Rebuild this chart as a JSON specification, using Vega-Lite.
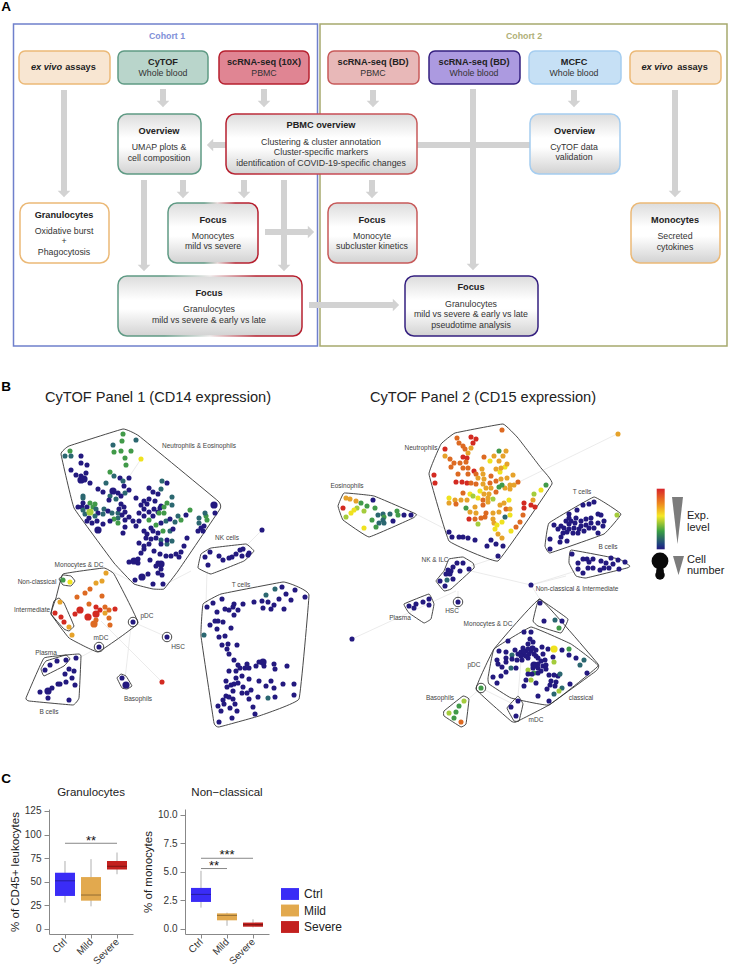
{"$schema":"https://vega.github.io/schema/vega-lite/v6.json","padding":{"left":1,"top":0,"right":0,"bottom":0},"background":"white","spacing":0,"config":{"font":"Liberation Sans","view":{"stroke":null},"concat":{"spacing":0}},
"resolve":{"scale":{"color":"independent","stroke":"independent","fill":"independent","shape":"independent","size":"independent"}},
"datasets":{
"frames":[{"k":"c1","x":12.5,"x2":316.5,"y":23,"y2":345},{"k":"c2","x":319,"x2":726,"y":23,"y2":345}],
"top":[{"k":"tan","x":18,"x2":109,"y":50,"y2":83},{"k":"teal","x":117,"x2":207,"y":50,"y2":83},{"k":"red","x":218,"x2":308,"y":50,"y2":83},{"k":"rose","x":327,"x2":418,"y":50,"y2":83},{"k":"purple","x":428,"x2":519,"y":50,"y2":83},{"k":"sky","x":528,"x2":620,"y":50,"y2":83},{"k":"tan","x":629,"x2":720,"y":50,"y2":83}],
"gbox":[{"k":"teal","x":117,"x2":200,"y":113,"y2":173},{"k":"sky","x":529,"x2":619,"y":113,"y2":173},{"k":"rose","x":327,"x2":416,"y":202,"y2":262},{"k":"tan","x":630,"x2":719,"y":202,"y2":262},{"k":"purple","x":404,"x2":537,"y":275,"y2":335}],
"wbox":[{"k":"tan","x":19,"x2":108,"y":202,"y2":262}],
"arrows":[{"x":63,"y":89,"x2":63,"y2":192},{"x":162,"y":88,"x2":162,"y2":102},{"x":263,"y":88,"x2":263,"y2":102},{"x":372,"y":89,"x2":372,"y2":102},{"x":472,"y":88,"x2":472,"y2":265},{"x":573,"y":89,"x2":573,"y2":102},{"x":674,"y":89,"x2":674,"y2":192},{"x":225,"y":144,"x2":211,"y2":144},{"x":416,"y":144,"x2":529,"y2":144},{"x":143,"y":179,"x2":143,"y2":266},{"x":182,"y":179,"x2":182,"y2":193},{"x":243,"y":179,"x2":243,"y2":193},{"x":283,"y":179,"x2":283,"y2":266},{"x":264,"y":231,"x2":309,"y2":231},{"x":371,"y":179,"x2":371,"y2":193},{"x":308,"y":304,"x2":394,"y2":304}],
"heads":[{"x":63,"y":193,"d":"down"},{"x":162,"y":103,"d":"down"},{"x":263,"y":103,"d":"down"},{"x":372,"y":103,"d":"down"},{"x":472,"y":266,"d":"down"},{"x":573,"y":103,"d":"down"},{"x":674,"y":193,"d":"down"},{"x":209,"y":144,"d":"left"},{"x":143,"y":267,"d":"down"},{"x":182,"y":194,"d":"down"},{"x":243,"y":194,"d":"down"},{"x":283,"y":267,"d":"down"},{"x":310,"y":231,"d":"right"},{"x":371,"y":194,"d":"down"},{"x":395,"y":304,"d":"right"}],
"bold":[{"x":162,"y":60.5,"t":"CyTOF"},{"x":263,"y":60.5,"t":"scRNA-seq (10X)"},{"x":372,"y":60.5,"t":"scRNA-seq (BD)"},{"x":473,"y":60.5,"t":"scRNA-seq (BD)"},{"x":573,"y":60.5,"t":"MCFC"},{"x":79.5,"y":66,"t":"assays"},{"x":691.5,"y":66,"t":"assays"},{"x":158,"y":130,"t":"Overview"},{"x":320,"y":124,"t":"PBMC overview"},{"x":573.5,"y":130,"t":"Overview"},{"x":63,"y":214,"t":"Granulocytes"},{"x":212,"y":219,"t":"Focus"},{"x":371,"y":219,"t":"Focus"},{"x":674,"y":219,"t":"Monocytes"},{"x":208,"y":292,"t":"Focus"},{"x":470,"y":286,"t":"Focus"}],
"ital":[{"x":45.5,"y":66,"t":"ex vivo"},{"x":656,"y":66,"t":"ex vivo"}],
"reg":[{"x":162,"y":72,"t":"Whole blood"},{"x":263,"y":72,"t":"PBMC"},{"x":372,"y":72,"t":"PBMC"},{"x":473,"y":72,"t":"Whole blood"},{"x":573,"y":72,"t":"Whole blood"},{"x":158,"y":146,"t":"UMAP plots &"},{"x":158,"y":157,"t":"cell composition"},{"x":320,"y":141,"t":"Clustering & cluster annotation"},{"x":320,"y":151,"t":"Cluster-specific markers"},{"x":320,"y":162,"t":"identification of COVID-19-specific changes"},{"x":573,"y":146,"t":"CyTOF data"},{"x":573,"y":156,"t":"validation"},{"x":63,"y":230,"t":"Oxidative burst"},{"x":63,"y":240,"t":"+"},{"x":63,"y":251,"t":"Phagocytosis"},{"x":212,"y":235,"t":"Monocytes"},{"x":212,"y":245,"t":"mild vs severe"},{"x":371,"y":235,"t":"Monocyte"},{"x":371,"y":245,"t":"subcluster kinetics"},{"x":674,"y":235,"t":"Secreted"},{"x":674,"y":246,"t":"cytokines"},{"x":208,"y":308,"t":"Granulocytes"},{"x":208,"y":319,"t":"mild vs severe & early vs late"},{"x":470,"y":303,"t":"Granulocytes"},{"x":470,"y":313,"t":"mild vs severe & early vs late"},{"x":470,"y":324,"t":"pseudotime analysis"}],
"cohort":[{"x":166,"y":35,"t":"Cohort 1"},{"x":523,"y":35,"t":"Cohort 2"}],
"letters":[{"x":5,"y":6,"t":"A"},{"x":5,"y":386,"t":"B"},{"x":5,"y":778,"t":"C"}],
"titles":[{"x":157,"y":397,"t":"CyTOF Panel 1 (CD14 expression)"},{"x":482,"y":397,"t":"CyTOF Panel 2 (CD15 expression)"}],
"labels":[{"x":198,"y":445,"t":"Neutrophils & Eosinophils"},{"x":226,"y":537,"t":"NK cells"},{"x":78,"y":564,"t":"Monocytes & DC"},{"x":36,"y":581,"t":"Non-classical"},{"x":31,"y":609,"t":"Intermediate"},{"x":146,"y":615,"t":"pDC"},{"x":100,"y":637,"t":"mDC"},{"x":177,"y":646,"t":"HSC"},{"x":240,"y":584,"t":"T cells"},{"x":45,"y":652,"t":"Plasma"},{"x":137,"y":698,"t":"Basophils"},{"x":48,"y":711,"t":"B cells"},{"x":420,"y":447,"t":"Neutrophils"},{"x":346,"y":485,"t":"Eosinophils"},{"x":581,"y":491,"t":"T cells"},{"x":607,"y":546,"t":"B cells"},{"x":434,"y":559,"t":"NK & ILC"},{"x":576,"y":588,"t":"Non-classical & Intermediate"},{"x":451,"y":610,"t":"HSC"},{"x":399,"y":617,"t":"Plasma"},{"x":487,"y":623,"t":"Monocytes & DC"},{"x":473,"y":664,"t":"pDC"},{"x":439,"y":697,"t":"Basophils"},{"x":580,"y":697,"t":"classical"},{"x":535,"y":719,"t":"mDC"}],
"legtext":[{"x":686,"y":515,"t":"Exp."},{"x":686,"y":527,"t":"level"},{"x":686,"y":559,"t":"Cell"},{"x":686,"y":570,"t":"number"}],
"edges":[{"x":140,"y":458,"x2":124,"y2":482},{"x":261,"y":529,"x2":244,"y2":546},{"x":206,"y":570,"x2":205,"y2":604},{"x":132,"y":621,"x2":166,"y2":636},{"x":130,"y":625,"x2":124,"y2":678},{"x":161,"y":681,"x2":100,"y2":620},{"x":98,"y":646,"x2":78,"y2":657},{"x":190,"y":570,"x2":165,"y2":583},{"x":110,"y":570,"x2":130,"y2":580},{"x":616,"y":433,"x2":520,"y2":480},{"x":455,"y":590,"x2":351,"y2":638},{"x":530,"y":584,"x2":470,"y2":570},{"x":530,"y":584,"x2":575,"y2":570},{"x":530,"y":584,"x2":540,"y2":600},{"x":530,"y":584,"x2":565,"y2":575},{"x":415,"y":513,"x2":448,"y2":530},{"x":470,"y":565,"x2":500,"y2":555},{"x":480,"y":687,"x2":510,"y2":702},{"x":480,"y":687,"x2":465,"y2":700},{"x":457,"y":590,"x2":457,"y2":600},{"x":520,"y":660,"x2":517,"y2":695}],
"hulls":[
{"h":"a","x":122,"y":428},{"h":"a","x":138,"y":435},{"h":"a","x":217,"y":500},{"h":"a","x":219,"y":508},{"h":"a","x":177,"y":570},{"h":"a","x":163,"y":588},{"h":"a","x":152,"y":588},{"h":"a","x":133,"y":583},{"h":"a","x":113,"y":562},{"h":"a","x":73,"y":507},{"h":"a","x":60,"y":453},{"h":"a","x":68,"y":445},
{"h":"b","x":245,"y":543},{"h":"b","x":253,"y":550},{"h":"b","x":243,"y":560},{"h":"b","x":210,"y":573},{"h":"b","x":197,"y":567},{"h":"b","x":200,"y":553},{"h":"b","x":210,"y":547},
{"h":"c","x":202,"y":603},{"h":"c","x":220,"y":593},{"h":"c","x":282,"y":581},{"h":"c","x":295,"y":585},{"h":"c","x":308,"y":594},{"h":"c","x":298,"y":698},{"h":"c","x":258,"y":715},{"h":"c","x":218,"y":726},{"h":"c","x":213,"y":722},{"h":"c","x":200,"y":635},
{"h":"d","x":62,"y":573},{"h":"d","x":103,"y":567},{"h":"d","x":113,"y":573},{"h":"d","x":137,"y":622},{"h":"d","x":97,"y":651},{"h":"d","x":68,"y":637},{"h":"d","x":50,"y":613},{"h":"d","x":55,"y":597},
{"h":"e","x":58,"y":578},{"h":"e","x":62,"y":574},{"h":"e","x":70,"y":575},{"h":"e","x":74,"y":580},{"h":"e","x":70,"y":585},{"h":"e","x":62,"y":584},
{"h":"f","x":53,"y":600},{"h":"f","x":58,"y":597},{"h":"f","x":63,"y":602},{"h":"f","x":73,"y":625},{"h":"f","x":68,"y":630},{"h":"f","x":63,"y":628},{"h":"f","x":50,"y":613},
{"h":"g","x":40,"y":668},{"h":"g","x":45,"y":660},{"h":"g","x":65,"y":654},{"h":"g","x":69,"y":658},{"h":"g","x":63,"y":665},{"h":"g","x":43,"y":675},
{"h":"i","x":25,"y":697},{"h":"i","x":28,"y":700},{"h":"i","x":72,"y":704},{"h":"i","x":78,"y":697},{"h":"i","x":80,"y":655},{"h":"i","x":77,"y":653},{"h":"i","x":43,"y":657},
{"h":"j","x":116,"y":677},{"h":"j","x":120,"y":673},{"h":"j","x":125,"y":675},{"h":"j","x":131,"y":685},{"h":"j","x":126,"y":688},{"h":"j","x":121,"y":687},
{"h":"k","x":454,"y":432},{"h":"k","x":502,"y":423},{"h":"k","x":517,"y":437},{"h":"k","x":540,"y":467},{"h":"k","x":551,"y":483},{"h":"k","x":497,"y":560},{"h":"k","x":448,"y":540},{"h":"k","x":428,"y":473},{"h":"k","x":440,"y":443},
{"h":"l","x":343,"y":492},{"h":"l","x":373,"y":495},{"h":"l","x":415,"y":513},{"h":"l","x":412,"y":517},{"h":"l","x":368,"y":536},{"h":"l","x":342,"y":519},{"h":"l","x":337,"y":505},
{"h":"m","x":593,"y":496},{"h":"m","x":620,"y":513},{"h":"m","x":603,"y":533},{"h":"m","x":549,"y":552},{"h":"m","x":544,"y":545},{"h":"m","x":548,"y":522},
{"h":"n","x":570,"y":549},{"h":"n","x":618,"y":558},{"h":"n","x":629,"y":565},{"h":"n","x":626,"y":567},{"h":"n","x":585,"y":577},{"h":"n","x":575,"y":575},{"h":"n","x":568,"y":562},
{"h":"o","x":448,"y":558},{"h":"o","x":462,"y":556},{"h":"o","x":472,"y":562},{"h":"o","x":473,"y":567},{"h":"o","x":450,"y":588},{"h":"o","x":443,"y":590},{"h":"o","x":435,"y":580},{"h":"o","x":443,"y":570},
{"h":"p","x":403,"y":603},{"h":"p","x":428,"y":593},{"h":"p","x":433,"y":603},{"h":"p","x":430,"y":618},{"h":"p","x":423,"y":622},{"h":"p","x":408,"y":612},
{"h":"q","x":538,"y":598},{"h":"q","x":567,"y":618},{"h":"q","x":560,"y":632},{"h":"q","x":537,"y":625},{"h":"q","x":532,"y":620},
{"h":"r","x":539,"y":598},{"h":"r","x":597,"y":663},{"h":"r","x":595,"y":670},{"h":"r","x":548,"y":704},{"h":"r","x":515,"y":721},{"h":"r","x":510,"y":720},{"h":"r","x":475,"y":688},{"h":"r","x":493,"y":648},
{"h":"s","x":530,"y":626},{"h":"s","x":570,"y":643},{"h":"s","x":597,"y":665},{"h":"s","x":548,"y":704},{"h":"s","x":510,"y":697},{"h":"s","x":488,"y":683},{"h":"s","x":487,"y":677},{"h":"s","x":493,"y":648},
{"h":"t","x":517,"y":695},{"h":"t","x":522,"y":703},{"h":"t","x":518,"y":720},{"h":"t","x":513,"y":720},{"h":"t","x":506,"y":707},
{"h":"u","x":462,"y":695},{"h":"u","x":468,"y":698},{"h":"u","x":465,"y":723},{"h":"u","x":460,"y":726},{"h":"u","x":443,"y":715},{"h":"u","x":443,"y":710}],
"rings":[{"x":132,"y":621},{"x":98,"y":646},{"x":166,"y":636},{"x":457,"y":601},{"x":480,"y":687}],
"big":[{"x":80,"y":479,"e":0},{"x":83,"y":478,"e":0},{"x":112,"y":490,"e":0},{"x":89,"y":511,"e":3},{"x":97,"y":529,"e":0},{"x":213,"y":504,"e":0},{"x":160,"y":563,"e":0},{"x":141,"y":576,"e":0},{"x":133,"y":560,"e":0},{"x":79,"y":609,"e":7},{"x":95,"y":613,"e":7},{"x":87,"y":616,"e":7},{"x":93,"y":623,"e":6},{"x":125,"y":684,"e":0},{"x":47,"y":690,"e":0},{"x":262,"y":661,"e":0},{"x":553,"y":648,"e":4},{"x":533,"y":664,"e":0}],
"pts":[{"x":122,"y":433,"e":2},{"x":121,"y":440,"e":2},{"x":135,"y":439,"e":1},{"x":112,"y":444,"e":1},{"x":113,"y":451,"e":2},{"x":120,"y":450,"e":2},{"x":130,"y":450,"e":2},{"x":124,"y":457,"e":2},{"x":125,"y":464,"e":2},{"x":140,"y":458,"e":4},{"x":69,"y":450,"e":2},{"x":64,"y":455,"e":1},{"x":70,"y":455,"e":1},{"x":80,"y":455,"e":0},{"x":80,"y":462,"e":0},{"x":86,"y":464,"e":0},{"x":70,"y":469,"e":0},{"x":85,"y":472,"e":0},{"x":75,"y":474,"e":0},{"x":80,"y":475,"e":0},{"x":89,"y":482,"e":0},{"x":109,"y":471,"e":2},{"x":113,"y":475,"e":1},{"x":119,"y":477,"e":0},{"x":122,"y":480,"e":1},{"x":128,"y":477,"e":0},{"x":105,"y":482,"e":1},{"x":123,"y":485,"e":0},{"x":97,"y":488,"e":0},{"x":102,"y":491,"e":0},{"x":128,"y":489,"e":0},{"x":124,"y":492,"e":1},{"x":117,"y":492,"e":0},{"x":109,"y":495,"e":1},{"x":108,"y":499,"e":0},{"x":115,"y":498,"e":1},{"x":120,"y":495,"e":0},{"x":82,"y":495,"e":1},{"x":82,"y":497,"e":1},{"x":82,"y":502,"e":0},{"x":135,"y":497,"e":0},{"x":148,"y":487,"e":0},{"x":152,"y":491,"e":0},{"x":161,"y":480,"e":1},{"x":166,"y":482,"e":0},{"x":160,"y":488,"e":1},{"x":157,"y":493,"e":0},{"x":148,"y":498,"e":0},{"x":143,"y":500,"e":0},{"x":154,"y":500,"e":0},{"x":171,"y":496,"e":1},{"x":166,"y":502,"e":2},{"x":171,"y":504,"e":1},{"x":160,"y":505,"e":0},{"x":77,"y":506,"e":0},{"x":81,"y":506,"e":0},{"x":86,"y":506,"e":0},{"x":89,"y":502,"e":2},{"x":94,"y":503,"e":2},{"x":92,"y":506,"e":2},{"x":82,"y":509,"e":1},{"x":84,"y":513,"e":1},{"x":95,"y":508,"e":1},{"x":103,"y":508,"e":1},{"x":97,"y":512,"e":0},{"x":102,"y":513,"e":1},{"x":94,"y":515,"e":1},{"x":88,"y":517,"e":0},{"x":91,"y":522,"e":0},{"x":86,"y":520,"e":0},{"x":96,"y":520,"e":0},{"x":102,"y":523,"e":0},{"x":107,"y":510,"e":0},{"x":111,"y":512,"e":1},{"x":117,"y":512,"e":1},{"x":120,"y":503,"e":0},{"x":123,"y":506,"e":0},{"x":118,"y":508,"e":0},{"x":124,"y":511,"e":0},{"x":121,"y":514,"e":0},{"x":117,"y":517,"e":1},{"x":113,"y":518,"e":2},{"x":109,"y":520,"e":0},{"x":117,"y":522,"e":2},{"x":124,"y":519,"e":0},{"x":128,"y":516,"e":0},{"x":124,"y":526,"e":0},{"x":122,"y":532,"e":0},{"x":132,"y":520,"e":0},{"x":135,"y":525,"e":0},{"x":138,"y":512,"e":0},{"x":143,"y":508,"e":0},{"x":140,"y":504,"e":0},{"x":146,"y":503,"e":0},{"x":148,"y":511,"e":0},{"x":143,"y":515,"e":0},{"x":138,"y":520,"e":0},{"x":148,"y":519,"e":2},{"x":152,"y":515,"e":0},{"x":157,"y":511,"e":0},{"x":153,"y":508,"e":0},{"x":159,"y":507,"e":0},{"x":163,"y":506,"e":2},{"x":158,"y":512,"e":2},{"x":163,"y":512,"e":2},{"x":155,"y":524,"e":2},{"x":150,"y":527,"e":0},{"x":160,"y":522,"e":0},{"x":165,"y":520,"e":1},{"x":169,"y":518,"e":0},{"x":174,"y":521,"e":1},{"x":177,"y":515,"e":1},{"x":180,"y":519,"e":2},{"x":185,"y":514,"e":0},{"x":189,"y":509,"e":2},{"x":198,"y":517,"e":1},{"x":198,"y":522,"e":1},{"x":205,"y":515,"e":2},{"x":206,"y":519,"e":2},{"x":204,"y":512,"e":1},{"x":200,"y":527,"e":0},{"x":197,"y":530,"e":0},{"x":202,"y":530,"e":0},{"x":203,"y":525,"e":0},{"x":214,"y":512,"e":0},{"x":146,"y":533,"e":0},{"x":143,"y":530,"e":0},{"x":152,"y":530,"e":0},{"x":157,"y":532,"e":0},{"x":162,"y":530,"e":2},{"x":169,"y":530,"e":1},{"x":172,"y":528,"e":0},{"x":145,"y":537,"e":0},{"x":150,"y":538,"e":0},{"x":155,"y":537,"e":0},{"x":160,"y":539,"e":1},{"x":166,"y":543,"e":1},{"x":171,"y":540,"e":1},{"x":166,"y":539,"e":0},{"x":160,"y":543,"e":0},{"x":186,"y":537,"e":0},{"x":183,"y":545,"e":0},{"x":138,"y":542,"e":0},{"x":143,"y":545,"e":0},{"x":148,"y":543,"e":0},{"x":143,"y":548,"e":0},{"x":140,"y":552,"e":0},{"x":153,"y":550,"e":0},{"x":159,"y":553,"e":0},{"x":165,"y":555,"e":0},{"x":170,"y":555,"e":0},{"x":175,"y":553,"e":0},{"x":180,"y":551,"e":0},{"x":178,"y":556,"e":0},{"x":137,"y":558,"e":0},{"x":128,"y":561,"e":0},{"x":137,"y":562,"e":0},{"x":149,"y":559,"e":0},{"x":157,"y":562,"e":0},{"x":155,"y":565,"e":0},{"x":160,"y":568,"e":0},{"x":134,"y":579,"e":0},{"x":147,"y":573,"e":0},{"x":157,"y":572,"e":0},{"x":161,"y":574,"e":0},{"x":152,"y":583,"e":0},{"x":162,"y":583,"e":0},
{"x":62,"y":579,"e":2},{"x":69,"y":581,"e":4},{"x":105,"y":572,"e":5},{"x":101,"y":580,"e":5},{"x":95,"y":582,"e":5},{"x":89,"y":588,"e":6},{"x":84,"y":592,"e":6},{"x":76,"y":596,"e":6},{"x":101,"y":595,"e":6},{"x":59,"y":601,"e":5},{"x":88,"y":603,"e":6},{"x":95,"y":606,"e":7},{"x":104,"y":606,"e":6},{"x":114,"y":608,"e":7},{"x":108,"y":609,"e":6},{"x":99,"y":609,"e":7},{"x":74,"y":613,"e":7},{"x":104,"y":612,"e":5},{"x":108,"y":617,"e":6},{"x":95,"y":619,"e":6},{"x":109,"y":624,"e":6},{"x":54,"y":612,"e":7},{"x":60,"y":616,"e":7},{"x":63,"y":621,"e":7},{"x":68,"y":626,"e":5},{"x":71,"y":634,"e":5},{"x":132,"y":621,"e":0},{"x":98,"y":646,"e":0},{"x":166,"y":636,"e":0},{"x":121,"y":677,"e":0},{"x":161,"y":681,"e":7},
{"x":65,"y":659,"e":0},{"x":56,"y":660,"e":0},{"x":49,"y":664,"e":0},{"x":44,"y":669,"e":0},{"x":75,"y":657,"e":0},{"x":68,"y":668,"e":0},{"x":73,"y":670,"e":0},{"x":64,"y":673,"e":0},{"x":71,"y":677,"e":0},{"x":65,"y":681,"e":0},{"x":74,"y":684,"e":0},{"x":57,"y":683,"e":0},{"x":59,"y":683,"e":0},{"x":51,"y":687,"e":0},{"x":39,"y":691,"e":0},{"x":47,"y":697,"e":0},{"x":68,"y":699,"e":0},
{"x":281,"y":586,"e":0},{"x":274,"y":588,"e":1},{"x":265,"y":594,"e":1},{"x":294,"y":589,"e":0},{"x":285,"y":593,"e":0},{"x":304,"y":596,"e":0},{"x":278,"y":598,"e":0},{"x":290,"y":599,"e":0},{"x":261,"y":600,"e":0},{"x":267,"y":601,"e":0},{"x":273,"y":604,"e":0},{"x":253,"y":601,"e":0},{"x":242,"y":603,"e":0},{"x":283,"y":608,"e":0},{"x":270,"y":608,"e":0},{"x":262,"y":607,"e":0},{"x":233,"y":603,"e":0},{"x":232,"y":606,"e":0},{"x":228,"y":609,"e":0},{"x":224,"y":608,"e":0},{"x":237,"y":609,"e":0},{"x":233,"y":614,"e":0},{"x":221,"y":598,"e":0},{"x":212,"y":602,"e":0},{"x":206,"y":606,"e":0},{"x":216,"y":611,"e":0},{"x":214,"y":620,"e":0},{"x":217,"y":620,"e":0},{"x":222,"y":621,"e":0},{"x":209,"y":624,"e":0},{"x":230,"y":627,"e":0},{"x":216,"y":628,"e":0},{"x":203,"y":634,"e":1},{"x":218,"y":636,"e":0},{"x":224,"y":635,"e":0},{"x":221,"y":644,"e":0},{"x":227,"y":643,"e":0},{"x":236,"y":644,"e":0},{"x":226,"y":648,"e":0},{"x":228,"y":653,"e":0},{"x":233,"y":659,"e":0},{"x":258,"y":661,"e":0},{"x":273,"y":663,"e":0},{"x":274,"y":668,"e":0},{"x":286,"y":665,"e":0},{"x":263,"y":665,"e":0},{"x":255,"y":665,"e":0},{"x":246,"y":663,"e":0},{"x":248,"y":667,"e":0},{"x":244,"y":667,"e":0},{"x":239,"y":667,"e":0},{"x":237,"y":664,"e":0},{"x":235,"y":670,"e":0},{"x":228,"y":670,"e":0},{"x":241,"y":675,"e":0},{"x":235,"y":677,"e":0},{"x":225,"y":680,"e":0},{"x":248,"y":678,"e":0},{"x":258,"y":680,"e":0},{"x":270,"y":680,"e":0},{"x":282,"y":683,"e":0},{"x":293,"y":683,"e":0},{"x":265,"y":685,"e":0},{"x":273,"y":687,"e":0},{"x":233,"y":683,"e":0},{"x":237,"y":682,"e":0},{"x":230,"y":684,"e":0},{"x":226,"y":686,"e":0},{"x":232,"y":690,"e":0},{"x":242,"y":686,"e":0},{"x":250,"y":689,"e":0},{"x":241,"y":692,"e":0},{"x":246,"y":692,"e":0},{"x":257,"y":696,"e":0},{"x":267,"y":697,"e":1},{"x":274,"y":696,"e":0},{"x":293,"y":694,"e":0},{"x":248,"y":698,"e":0},{"x":225,"y":695,"e":0},{"x":228,"y":696,"e":0},{"x":222,"y":699,"e":0},{"x":232,"y":698,"e":0},{"x":217,"y":705,"e":0},{"x":223,"y":703,"e":0},{"x":229,"y":707,"e":0},{"x":234,"y":703,"e":0},{"x":236,"y":710,"e":0},{"x":220,"y":710,"e":0},{"x":252,"y":706,"e":0},{"x":254,"y":713,"e":0},{"x":231,"y":717,"e":0},{"x":218,"y":721,"e":0},
{"x":261,"y":529,"e":0},{"x":209,"y":551,"e":0},{"x":204,"y":556,"e":0},{"x":218,"y":555,"e":0},{"x":222,"y":559,"e":0},{"x":228,"y":557,"e":0},{"x":231,"y":556,"e":0},{"x":235,"y":553,"e":0},{"x":239,"y":549,"e":0},{"x":242,"y":548,"e":0},{"x":241,"y":555,"e":0},{"x":248,"y":552,"e":0},{"x":247,"y":554,"e":0},{"x":207,"y":564,"e":0},
{"x":501,"y":429,"e":6},{"x":617,"y":433,"e":5},{"x":470,"y":436,"e":7},{"x":475,"y":438,"e":7},{"x":472,"y":442,"e":7},{"x":456,"y":437,"e":6},{"x":458,"y":442,"e":6},{"x":462,"y":445,"e":6},{"x":464,"y":448,"e":6},{"x":467,"y":452,"e":5},{"x":470,"y":447,"e":5},{"x":444,"y":448,"e":7},{"x":444,"y":455,"e":5},{"x":449,"y":458,"e":6},{"x":462,"y":456,"e":7},{"x":466,"y":457,"e":7},{"x":465,"y":461,"e":6},{"x":453,"y":462,"e":6},{"x":459,"y":462,"e":6},{"x":450,"y":466,"e":6},{"x":462,"y":467,"e":6},{"x":467,"y":467,"e":6},{"x":473,"y":470,"e":7},{"x":467,"y":473,"e":6},{"x":457,"y":473,"e":6},{"x":433,"y":474,"e":7},{"x":434,"y":482,"e":7},{"x":455,"y":481,"e":7},{"x":461,"y":481,"e":7},{"x":466,"y":482,"e":7},{"x":470,"y":482,"e":6},{"x":475,"y":473,"e":6},{"x":477,"y":477,"e":5},{"x":475,"y":483,"e":6},{"x":481,"y":468,"e":5},{"x":482,"y":473,"e":5},{"x":483,"y":456,"e":6},{"x":489,"y":460,"e":4},{"x":493,"y":455,"e":5},{"x":498,"y":450,"e":2},{"x":505,"y":450,"e":5},{"x":502,"y":455,"e":5},{"x":498,"y":460,"e":5},{"x":495,"y":468,"e":5},{"x":499,"y":471,"e":4},{"x":504,"y":466,"e":4},{"x":500,"y":467,"e":5},{"x":506,"y":463,"e":5},{"x":483,"y":478,"e":5},{"x":482,"y":483,"e":5},{"x":490,"y":475,"e":6},{"x":495,"y":480,"e":6},{"x":489,"y":482,"e":6},{"x":500,"y":478,"e":5},{"x":506,"y":477,"e":5},{"x":512,"y":474,"e":5},{"x":517,"y":481,"e":6},{"x":513,"y":484,"e":5},{"x":509,"y":484,"e":5},{"x":504,"y":487,"e":5},{"x":509,"y":488,"e":5},{"x":498,"y":486,"e":2},{"x":501,"y":484,"e":2},{"x":495,"y":491,"e":6},{"x":490,"y":487,"e":5},{"x":485,"y":487,"e":5},{"x":479,"y":490,"e":4},{"x":469,"y":493,"e":4},{"x":462,"y":492,"e":6},{"x":477,"y":497,"e":4},{"x":472,"y":495,"e":3},{"x":483,"y":493,"e":5},{"x":487,"y":497,"e":5},{"x":492,"y":498,"e":3},{"x":466,"y":499,"e":5},{"x":460,"y":499,"e":5},{"x":454,"y":499,"e":5},{"x":448,"y":497,"e":4},{"x":448,"y":502,"e":5},{"x":455,"y":503,"e":6},{"x":465,"y":507,"e":2},{"x":474,"y":506,"e":5},{"x":469,"y":511,"e":5},{"x":475,"y":512,"e":5},{"x":482,"y":504,"e":6},{"x":482,"y":499,"e":6},{"x":487,"y":501,"e":5},{"x":488,"y":493,"e":5},{"x":499,"y":504,"e":5},{"x":503,"y":502,"e":5},{"x":508,"y":499,"e":4},{"x":505,"y":508,"e":6},{"x":509,"y":508,"e":5},{"x":498,"y":511,"e":5},{"x":492,"y":512,"e":5},{"x":509,"y":514,"e":4},{"x":504,"y":516,"e":1},{"x":485,"y":512,"e":6},{"x":480,"y":517,"e":6},{"x":484,"y":516,"e":6},{"x":474,"y":518,"e":6},{"x":468,"y":518,"e":7},{"x":477,"y":523,"e":3},{"x":492,"y":518,"e":5},{"x":493,"y":522,"e":5},{"x":501,"y":521,"e":4},{"x":496,"y":524,"e":4},{"x":494,"y":528,"e":4},{"x":497,"y":533,"e":5},{"x":501,"y":537,"e":5},{"x":510,"y":530,"e":4},{"x":515,"y":526,"e":6},{"x":519,"y":521,"e":6},{"x":522,"y":514,"e":6},{"x":523,"y":507,"e":7},{"x":523,"y":502,"e":7},{"x":530,"y":504,"e":7},{"x":534,"y":506,"e":7},{"x":532,"y":499,"e":5},{"x":533,"y":493,"e":3},{"x":540,"y":489,"e":4},{"x":545,"y":484,"e":2},
{"x":448,"y":531,"e":0},{"x":451,"y":536,"e":0},{"x":458,"y":536,"e":0},{"x":462,"y":536,"e":0},{"x":467,"y":537,"e":0},{"x":474,"y":539,"e":0},{"x":490,"y":539,"e":0},{"x":495,"y":543,"e":0},{"x":486,"y":545,"e":0},{"x":502,"y":545,"e":0},{"x":497,"y":555,"e":0},
{"x":345,"y":497,"e":5},{"x":349,"y":498,"e":5},{"x":355,"y":500,"e":5},{"x":360,"y":502,"e":2},{"x":372,"y":499,"e":0},{"x":366,"y":505,"e":2},{"x":374,"y":507,"e":2},{"x":342,"y":507,"e":7},{"x":356,"y":507,"e":3},{"x":353,"y":509,"e":4},{"x":350,"y":512,"e":4},{"x":363,"y":510,"e":3},{"x":345,"y":516,"e":3},{"x":363,"y":527,"e":4},{"x":371,"y":519,"e":2},{"x":377,"y":514,"e":1},{"x":382,"y":513,"e":1},{"x":389,"y":513,"e":1},{"x":383,"y":516,"e":2},{"x":382,"y":519,"e":1},{"x":378,"y":522,"e":1},{"x":383,"y":522,"e":1},{"x":375,"y":526,"e":2},{"x":396,"y":510,"e":2},{"x":392,"y":520,"e":0},{"x":397,"y":514,"e":2},{"x":403,"y":514,"e":0},{"x":410,"y":514,"e":0},
{"x":593,"y":501,"e":0},{"x":588,"y":503,"e":0},{"x":582,"y":504,"e":0},{"x":576,"y":509,"e":0},{"x":616,"y":514,"e":3},{"x":568,"y":513,"e":0},{"x":568,"y":517,"e":0},{"x":565,"y":520,"e":0},{"x":570,"y":520,"e":0},{"x":575,"y":517,"e":0},{"x":580,"y":520,"e":0},{"x":585,"y":518,"e":0},{"x":590,"y":517,"e":0},{"x":597,"y":513,"e":0},{"x":600,"y":514,"e":0},{"x":603,"y":520,"e":0},{"x":602,"y":525,"e":0},{"x":597,"y":522,"e":0},{"x":593,"y":527,"e":0},{"x":597,"y":532,"e":0},{"x":588,"y":527,"e":0},{"x":583,"y":530,"e":0},{"x":578,"y":528,"e":0},{"x":573,"y":527,"e":0},{"x":568,"y":523,"e":0},{"x":563,"y":527,"e":0},{"x":560,"y":525,"e":0},{"x":553,"y":524,"e":0},{"x":557,"y":528,"e":0},{"x":562,"y":532,"e":0},{"x":566,"y":531,"e":0},{"x":560,"y":536,"e":0},{"x":566,"y":540,"e":0},{"x":559,"y":541,"e":0},{"x":549,"y":538,"e":0},{"x":549,"y":548,"e":0},{"x":577,"y":532,"e":0},{"x":572,"y":532,"e":0},{"x":568,"y":528,"e":0},{"x":590,"y":522,"e":0},{"x":580,"y":525,"e":0},{"x":574,"y":522,"e":0},{"x":585,"y":524,"e":0},
{"x":571,"y":553,"e":0},{"x":582,"y":558,"e":0},{"x":577,"y":562,"e":0},{"x":586,"y":558,"e":0},{"x":592,"y":558,"e":0},{"x":600,"y":560,"e":0},{"x":605,"y":562,"e":0},{"x":610,"y":557,"e":0},{"x":617,"y":559,"e":0},{"x":618,"y":568,"e":0},{"x":612,"y":563,"e":0},{"x":603,"y":567,"e":0},{"x":588,"y":561,"e":0},{"x":624,"y":561,"e":0},{"x":577,"y":568,"e":0},{"x":582,"y":572,"e":0},{"x":587,"y":567,"e":0},{"x":592,"y":567,"e":0},{"x":599,"y":569,"e":0},{"x":608,"y":567,"e":0},
{"x":456,"y":562,"e":0},{"x":462,"y":562,"e":0},{"x":452,"y":566,"e":0},{"x":447,"y":569,"e":0},{"x":450,"y":570,"e":0},{"x":445,"y":573,"e":0},{"x":449,"y":573,"e":0},{"x":459,"y":570,"e":0},{"x":468,"y":568,"e":0},{"x":439,"y":580,"e":0},{"x":446,"y":579,"e":1},{"x":452,"y":578,"e":0},{"x":444,"y":585,"e":0},
{"x":408,"y":605,"e":0},{"x":413,"y":607,"e":0},{"x":415,"y":603,"e":0},{"x":422,"y":601,"e":0},{"x":428,"y":598,"e":0},{"x":428,"y":604,"e":0},{"x":351,"y":638,"e":0},{"x":457,"y":601,"e":0},{"x":530,"y":584,"e":0},
{"x":539,"y":602,"e":0},{"x":543,"y":620,"e":0},{"x":554,"y":619,"e":1},{"x":561,"y":620,"e":0},{"x":558,"y":627,"e":2},
{"x":523,"y":631,"e":0},{"x":530,"y":631,"e":0},{"x":507,"y":640,"e":0},{"x":529,"y":638,"e":0},{"x":532,"y":641,"e":0},{"x":527,"y":643,"e":0},{"x":498,"y":650,"e":0},{"x":505,"y":651,"e":0},{"x":514,"y":649,"e":0},{"x":522,"y":647,"e":0},{"x":525,"y":650,"e":0},{"x":531,"y":647,"e":0},{"x":535,"y":649,"e":0},{"x":541,"y":646,"e":0},{"x":547,"y":648,"e":0},{"x":561,"y":649,"e":0},{"x":568,"y":648,"e":2},{"x":568,"y":654,"e":0},{"x":575,"y":657,"e":0},{"x":583,"y":659,"e":1},{"x":579,"y":664,"e":1},{"x":586,"y":672,"e":0},{"x":511,"y":654,"e":1},{"x":517,"y":653,"e":0},{"x":520,"y":651,"e":0},{"x":523,"y":654,"e":0},{"x":528,"y":653,"e":0},{"x":533,"y":653,"e":0},{"x":537,"y":657,"e":0},{"x":542,"y":653,"e":0},{"x":544,"y":659,"e":0},{"x":552,"y":656,"e":0},{"x":553,"y":661,"e":3},{"x":505,"y":657,"e":0},{"x":505,"y":661,"e":0},{"x":496,"y":659,"e":0},{"x":497,"y":663,"e":0},{"x":511,"y":658,"e":0},{"x":516,"y":659,"e":0},{"x":521,"y":659,"e":0},{"x":527,"y":657,"e":0},{"x":501,"y":666,"e":0},{"x":510,"y":667,"e":1},{"x":515,"y":667,"e":0},{"x":505,"y":671,"e":0},{"x":500,"y":675,"e":0},{"x":492,"y":676,"e":0},{"x":496,"y":682,"e":0},{"x":537,"y":667,"e":0},{"x":542,"y":665,"e":0},{"x":545,"y":664,"e":0},{"x":545,"y":668,"e":0},{"x":540,"y":670,"e":0},{"x":527,"y":669,"e":3},{"x":533,"y":672,"e":2},{"x":527,"y":673,"e":0},{"x":531,"y":673,"e":0},{"x":537,"y":672,"e":0},{"x":548,"y":674,"e":0},{"x":553,"y":674,"e":0},{"x":557,"y":675,"e":0},{"x":559,"y":673,"e":1},{"x":525,"y":679,"e":0},{"x":530,"y":679,"e":3},{"x":535,"y":682,"e":0},{"x":523,"y":685,"e":0},{"x":550,"y":680,"e":0},{"x":555,"y":681,"e":0},{"x":549,"y":684,"e":0},{"x":554,"y":685,"e":0},{"x":546,"y":688,"e":0},{"x":569,"y":683,"e":0},{"x":561,"y":687,"e":1},{"x":558,"y":690,"e":3},{"x":553,"y":693,"e":1},{"x":537,"y":695,"e":0},{"x":548,"y":700,"e":0},{"x":523,"y":651,"e":0},{"x":530,"y":650,"e":0},{"x":520,"y":655,"e":0},{"x":532,"y":647,"e":0},{"x":527,"y":648,"e":0},{"x":525,"y":655,"e":0},{"x":535,"y":655,"e":0},{"x":540,"y":660,"e":0},{"x":537,"y":663,"e":0},{"x":532,"y":667,"e":0},
{"x":517,"y":700,"e":0},{"x":510,"y":706,"e":0},{"x":515,"y":715,"e":0},{"x":480,"y":687,"e":2},{"x":463,"y":700,"e":3},{"x":458,"y":705,"e":2},{"x":455,"y":711,"e":2},{"x":448,"y":712,"e":3},{"x":453,"y":717,"e":2},{"x":460,"y":721,"e":6}],
"bar":[{"x":655.7,"x2":663.7,"y":487.7,"y2":548.3}],
"wedges":[{"x":676.5,"y":519.5,"w":"exp"},{"x":677.5,"y":564.5,"w":"cell"}],
"blobs":[{"x":659,"y":560,"n":283},{"x":659,"y":570,"n":60},{"x":659,"y":574,"n":90}],
"gran":[{"g":"Ctrl","lo":28,"q1":35,"med":51,"q3":59.6,"hi":72},{"g":"Mild","lo":24,"q1":30,"med":36,"q3":55,"hi":74},{"g":"Severe","lo":58,"q1":63,"med":66.5,"q3":72,"hi":81}],
"nc":[{"g":"Ctrl","lo":1.87,"q1":2.37,"med":3.04,"q3":3.6,"hi":5.1},{"g":"Mild","lo":0.28,"q1":0.76,"med":1.2,"q3":1.37,"hi":1.43},{"g":"Severe","lo":0.14,"q1":0.2,"med":0.37,"q3":0.56,"hi":0.85}]
},
"vconcat":[
{"width":681,"height":785,
"resolve":{"scale":{"color":"independent","stroke":"independent","fill":"independent","shape":"independent","size":"independent"}},
"encoding":{"x":{"field":"x","type":"quantitative","axis":null,"scale":{"domain":[48,729],"nice":false,"zero":false}},"y":{"field":"y","type":"quantitative","axis":null,"scale":{"domain":[785,0],"nice":false,"zero":false}}},
"layer":[
{"data":{"name":"frames"},"mark":{"type":"rect","fillOpacity":0,"strokeWidth":1.5},"encoding":{"x2":{"field":"x2"},"y2":{"field":"y2"},"stroke":{"field":"k","type":"nominal","legend":null,"scale":{"domain":["c1","c2"],"range":["#6f80cc","#a7a96e"]}}}},
{"data":{"name":"arrows"},"mark":{"type":"rule","strokeWidth":6,"color":"#d2d2d2"},"encoding":{"x2":{"field":"x2"},"y2":{"field":"y2"}}},
{"data":{"name":"heads"},"mark":{"type":"point","filled":true,"opacity":1,"color":"#d2d2d2","size":160},"encoding":{"shape":{"field":"d","type":"nominal","legend":null,"scale":{"domain":["down","left","right"],"range":["M-1,-0.5L1,-0.5L0,0.5Z","M0.5,-1L0.5,1L-0.5,0Z","M-0.5,-1L-0.5,1L0.5,0Z"]}}}},
{"data":{"name":"top"},"mark":{"type":"rect","color":"#b5b5b5","cornerRadius":6,"xOffset":0.5,"yOffset":1.5},"encoding":{"x2":{"field":"x2"},"y2":{"field":"y2"}}},
{"data":{"name":"top"},"mark":{"type":"rect","cornerRadius":6,"strokeWidth":1.5},"encoding":{"x2":{"field":"x2"},"y2":{"field":"y2"},"fill":{"field":"k","type":"nominal","legend":null,"scale":{"domain":["tan","teal","red","rose","purple","sky"],"range":["#f8e6d2","#b9d5cb","#e08593","#e8b8b8","#ac9ae0","#c6e0f5"]}},"stroke":{"field":"k","type":"nominal","legend":null,"scale":{"domain":["tan","teal","red","rose","purple","sky"],"range":["#ebb977","#5f9a84","#b6202f","#c75a5a","#352080","#a5cdf0"]}}}},
{"data":{"name":"gbox"},"mark":{"type":"rect","cornerRadius":9,"strokeWidth":1.5,"fill":{"x1":0,"y1":0,"x2":0,"y2":1,"gradient":"linear","stops":[{"offset":0,"color":"#dcdcdc"},{"offset":0.4,"color":"#ffffff"},{"offset":0.55,"color":"#ffffff"},{"offset":1,"color":"#d2d2d2"}]}},"encoding":{"x2":{"field":"x2"},"y2":{"field":"y2"},"stroke":{"field":"k","type":"nominal","legend":null,"scale":{"domain":["tan","teal","red","rose","purple","sky"],"range":["#ebb977","#5f9a84","#b6202f","#c75a5a","#352080","#a5cdf0"]}}}},
{"data":{"name":"wbox"},"mark":{"type":"rect","cornerRadius":9,"strokeWidth":1.5,"fill":"white","stroke":"#ebb977"},"encoding":{"x2":{"field":"x2"},"y2":{"field":"y2"}}},
{"data":{"values":[{"x":225,"x2":416,"y":113,"y2":173}]},"mark":{"type":"rect","cornerRadius":9,"strokeWidth":1.5,"fill":{"x1":0,"y1":0,"x2":0,"y2":1,"gradient":"linear","stops":[{"offset":0,"color":"#dcdcdc"},{"offset":0.4,"color":"#ffffff"},{"offset":0.55,"color":"#ffffff"},{"offset":1,"color":"#d2d2d2"}]},"stroke":{"x1":0,"y1":0,"x2":1,"y2":0,"gradient":"linear","stops":[{"offset":0,"color":"#b6202f"},{"offset":0.5,"color":"#c84a55"},{"offset":1,"color":"#c75a5a"}]}},"encoding":{"x2":{"field":"x2"},"y2":{"field":"y2"}}},
{"data":{"values":[{"x":167,"x2":257,"y":202,"y2":262}]},"mark":{"type":"rect","cornerRadius":9,"strokeWidth":1.5,"fill":{"x1":0,"y1":0,"x2":0,"y2":1,"gradient":"linear","stops":[{"offset":0,"color":"#dcdcdc"},{"offset":0.4,"color":"#ffffff"},{"offset":0.55,"color":"#ffffff"},{"offset":1,"color":"#d2d2d2"}]},"stroke":{"x1":0,"y1":0,"x2":1,"y2":0,"gradient":"linear","stops":[{"offset":0,"color":"#5f9a84"},{"offset":0.4,"color":"#5f9a84"},{"offset":0.55,"color":"#e8d8d8"},{"offset":0.75,"color":"#b6202f"},{"offset":1,"color":"#b6202f"}]}},"encoding":{"x2":{"field":"x2"},"y2":{"field":"y2"}}},
{"data":{"values":[{"x":117,"x2":301,"y":275,"y2":335}]},"mark":{"type":"rect","cornerRadius":9,"strokeWidth":1.5,"fill":{"x1":0,"y1":0,"x2":0,"y2":1,"gradient":"linear","stops":[{"offset":0,"color":"#dcdcdc"},{"offset":0.4,"color":"#ffffff"},{"offset":0.55,"color":"#ffffff"},{"offset":1,"color":"#d2d2d2"}]},"stroke":{"x1":0,"y1":0,"x2":1,"y2":0,"gradient":"linear","stops":[{"offset":0,"color":"#5f9a84"},{"offset":0.25,"color":"#5f9a84"},{"offset":0.5,"color":"#f0ecec"},{"offset":0.75,"color":"#b6202f"},{"offset":1,"color":"#b6202f"}]}},"encoding":{"x2":{"field":"x2"},"y2":{"field":"y2"}}},
{"data":{"name":"bold"},"mark":{"type":"text","fontWeight":"bold","fontSize":9.2,"color":"#222222"},"encoding":{"text":{"field":"t"}}},
{"data":{"name":"ital"},"mark":{"type":"text","fontWeight":"bold","fontStyle":"italic","fontSize":9.2,"color":"#222222"},"encoding":{"text":{"field":"t"}}},
{"data":{"name":"reg"},"mark":{"type":"text","fontSize":8.8,"color":"#333333"},"encoding":{"text":{"field":"t"}}},
{"data":{"name":"cohort"},"mark":{"type":"text","fontWeight":"bold","fontSize":8.8},"encoding":{"text":{"field":"t"},"color":{"field":"t","type":"nominal","legend":null,"scale":{"domain":["Cohort 1","Cohort 2"],"range":["#8090d8","#b0b078"]}}}},
{"data":{"name":"letters"},"mark":{"type":"text","fontWeight":"bold","fontSize":13.5,"color":"#000000"},"encoding":{"text":{"field":"t"}}},
{"data":{"name":"titles"},"mark":{"type":"text","fontSize":14.6,"color":"#222222"},"encoding":{"text":{"field":"t"}}},
{"data":{"name":"edges"},"mark":{"type":"rule","color":"#e6e6e6","strokeWidth":0.8},"encoding":{"x2":{"field":"x2"},"y2":{"field":"y2"}}},
{"data":{"name":"hulls"},"mark":{"type":"line","interpolate":"cardinal-closed","tension":0.8,"color":"#333333","strokeWidth":0.9},"encoding":{"detail":{"field":"h"},"order":{"value":null}}},
{"data":{"name":"rings"},"mark":{"type":"point","shape":"circle","size":90,"color":"#333333","strokeWidth":0.9,"filled":false,"opacity":1}},
{"data":{"name":"pts"},"mark":{"type":"circle","size":26,"opacity":1},"encoding":{"color":{"field":"e","type":"ordinal","legend":null,"scale":{"domain":[0,1,2,3,4,5,6,7],"range":["#23197f","#2b6770","#419a49","#a4cc3c","#efe21f","#e6a22a","#dd6a22","#d32a21"]}}}},
{"data":{"name":"big"},"mark":{"type":"circle","size":52,"opacity":1},"encoding":{"color":{"field":"e","type":"ordinal","legend":null,"scale":{"domain":[0,1,2,3,4,5,6,7],"range":["#23197f","#2b6770","#419a49","#a4cc3c","#efe21f","#e6a22a","#dd6a22","#d32a21"]}}}},
{"data":{"name":"labels"},"mark":{"type":"text","fontSize":6.5,"color":"#444444"},"encoding":{"text":{"field":"t"}}},
{"data":{"name":"bar"},"mark":{"type":"rect","fill":{"x1":0,"y1":0,"x2":0,"y2":1,"gradient":"linear","stops":[{"offset":0,"color":"#d8242a"},{"offset":0.25,"color":"#ee8a1e"},{"offset":0.45,"color":"#f5e826"},{"offset":0.7,"color":"#3aa043"},{"offset":0.92,"color":"#1f3f80"},{"offset":1,"color":"#23197f"}]}},"encoding":{"x2":{"field":"x2"},"y2":{"field":"y2"}}},
{"data":{"name":"wedges"},"mark":{"type":"point","filled":true,"opacity":1,"color":"#7c7c7c","size":121},"encoding":{"shape":{"field":"w","type":"nominal","legend":null,"scale":{"domain":["exp","cell"],"range":["M-1,-4.26L1,-4.26L0,4.26Z","M-1,-1.72L1,-1.72L0,1.72Z"]}}}},
{"data":{"name":"blobs"},"mark":{"type":"circle","color":"#0a0a0a","opacity":1},"encoding":{"size":{"field":"n","type":"quantitative","legend":null,"scale":{"domain":[0,283],"range":[0,283]}}}},
{"data":{"name":"legtext"},"mark":{"type":"text","align":"left","fontSize":11,"color":"#222222"},"encoding":{"text":{"field":"t"}}}
]},
{"spacing":9,"resolve":{"scale":{"color":"independent"}},"hconcat":[
{"data":{"name":"gran"},"width":84,"height":125,"title":{"text":"Granulocytes","fontSize":11.5,"fontWeight":"normal","color":"#222222","offset":7},"resolve":{"axis":{"y":"independent"}},
"encoding":{"x":{"field":"g","type":"nominal","sort":null,"title":null,"scale":{"type":"point","domain":["Ctrl","Mild","Severe"],"padding":0.615},"axis":{"labelAngle":-45,"labelAlign":"right","labelBaseline":"middle","labelFontSize":10,"labelColor":"#333333","domainColor":"#888888","tickColor":"#888888","tickSize":4,"labelPadding":2}}},
"layer":[
{"mark":{"type":"rule","color":"#b0b0b0"},"encoding":{"y":{"field":"lo","type":"quantitative","title":"% of CD45+ leukocytes","scale":{"domain":[-5.3,127.1],"nice":false,"zero":false},"axis":{"values":[0,25,50,75,100,125],"grid":false,"labelFontSize":10,"labelColor":"#333333","domainColor":"#888888","tickColor":"#888888","tickSize":5,"labelPadding":3,"titleFontSize":11.5,"titleFontWeight":"normal","titleColor":"#222222","titlePadding":4}},"y2":{"field":"hi"}}},
{"mark":{"type":"bar","size":20},"encoding":{"y":{"field":"q1","type":"quantitative","axis":null},"y2":{"field":"q3"},"color":{"field":"g","type":"nominal","legend":null,"scale":{"domain":["Ctrl","Mild","Severe"],"range":["#3a2cf6","#e2a94e","#c3211f"]}}}},
{"mark":{"type":"tick","size":20,"thickness":0.8,"color":"#000000","opacity":0.45},"encoding":{"y":{"field":"med","type":"quantitative","axis":null}}},
{"data":{"values":[{"a":"Ctrl","b":"Severe","v":90.8}]},"mark":{"type":"rule","color":"#888888"},"encoding":{"x":{"field":"a","type":"nominal"},"x2":{"field":"b"},"y":{"field":"v","type":"quantitative","axis":null}}},
{"data":{"values":[{"a":"Mild","v":93,"s":"**"}]},"mark":{"type":"text","fontSize":13,"color":"#111111"},"encoding":{"x":{"field":"a","type":"nominal"},"y":{"field":"v","type":"quantitative","axis":null},"text":{"field":"s"}}}
]},
{"data":{"name":"nc"},"width":84,"height":125,"title":{"text":"Non\u2212classical","fontSize":11.5,"fontWeight":"normal","color":"#222222","offset":11},"resolve":{"axis":{"y":"independent"}},
"encoding":{"x":{"field":"g","type":"nominal","sort":null,"title":null,"scale":{"type":"point","domain":["Ctrl","Mild","Severe"],"padding":0.615},"axis":{"labelAngle":-45,"labelAlign":"right","labelBaseline":"middle","labelFontSize":10,"labelColor":"#333333","domainColor":"#888888","tickColor":"#888888","tickSize":4,"labelPadding":2}}},
"layer":[
{"mark":{"type":"rule","color":"#b0b0b0"},"encoding":{"y":{"field":"lo","type":"quantitative","title":"% of monocytes","scale":{"domain":[-0.44,10.52],"nice":false,"zero":false},"axis":{"values":[0,2.5,5,7.5,10],"format":".1f","grid":false,"labelFontSize":10,"labelColor":"#333333","domainColor":"#888888","tickColor":"#888888","tickSize":5,"labelPadding":3,"titleFontSize":11.5,"titleFontWeight":"normal","titleColor":"#222222","titlePadding":4}},"y2":{"field":"hi"}}},
{"mark":{"type":"bar","size":20},"encoding":{"y":{"field":"q1","type":"quantitative","axis":null},"y2":{"field":"q3"},"color":{"field":"g","type":"nominal","scale":{"domain":["Ctrl","Mild","Severe"],"range":["#3a2cf6","#e2a94e","#c3211f"]},"legend":{"title":null,"orient":"none","legendX":96,"legendY":76,"symbolType":"M-1,-0.66H1V0.66H-1Z","symbolSize":324,"labelFontSize":12,"labelColor":"#222222","labelOffset":5,"rowPadding":1.5,"symbolStrokeWidth":0}}}},
{"mark":{"type":"tick","size":20,"thickness":0.8,"color":"#000000","opacity":0.45},"encoding":{"y":{"field":"med","type":"quantitative","axis":null}}},
{"data":{"values":[{"a":"Ctrl","b":"Severe","v":6.2},{"a":"Ctrl","b":"Mild","v":5.3}]},"mark":{"type":"rule","color":"#888888"},"encoding":{"x":{"field":"a","type":"nominal"},"x2":{"field":"b"},"y":{"field":"v","type":"quantitative","axis":null}}},
{"data":{"values":[{"a":"Mild","v":6.45,"s":"***"}]},"mark":{"type":"text","fontSize":13,"color":"#111111"},"encoding":{"x":{"field":"a","type":"nominal"},"y":{"field":"v","type":"quantitative","axis":null},"text":{"field":"s"}}},
{"data":{"values":[{"a":"Ctrl","v":5.55,"s":"**"}]},"mark":{"type":"text","fontSize":13,"color":"#111111","dx":13},"encoding":{"x":{"field":"a","type":"nominal"},"y":{"field":"v","type":"quantitative","axis":null},"text":{"field":"s"}}}
]}
]}
]}
